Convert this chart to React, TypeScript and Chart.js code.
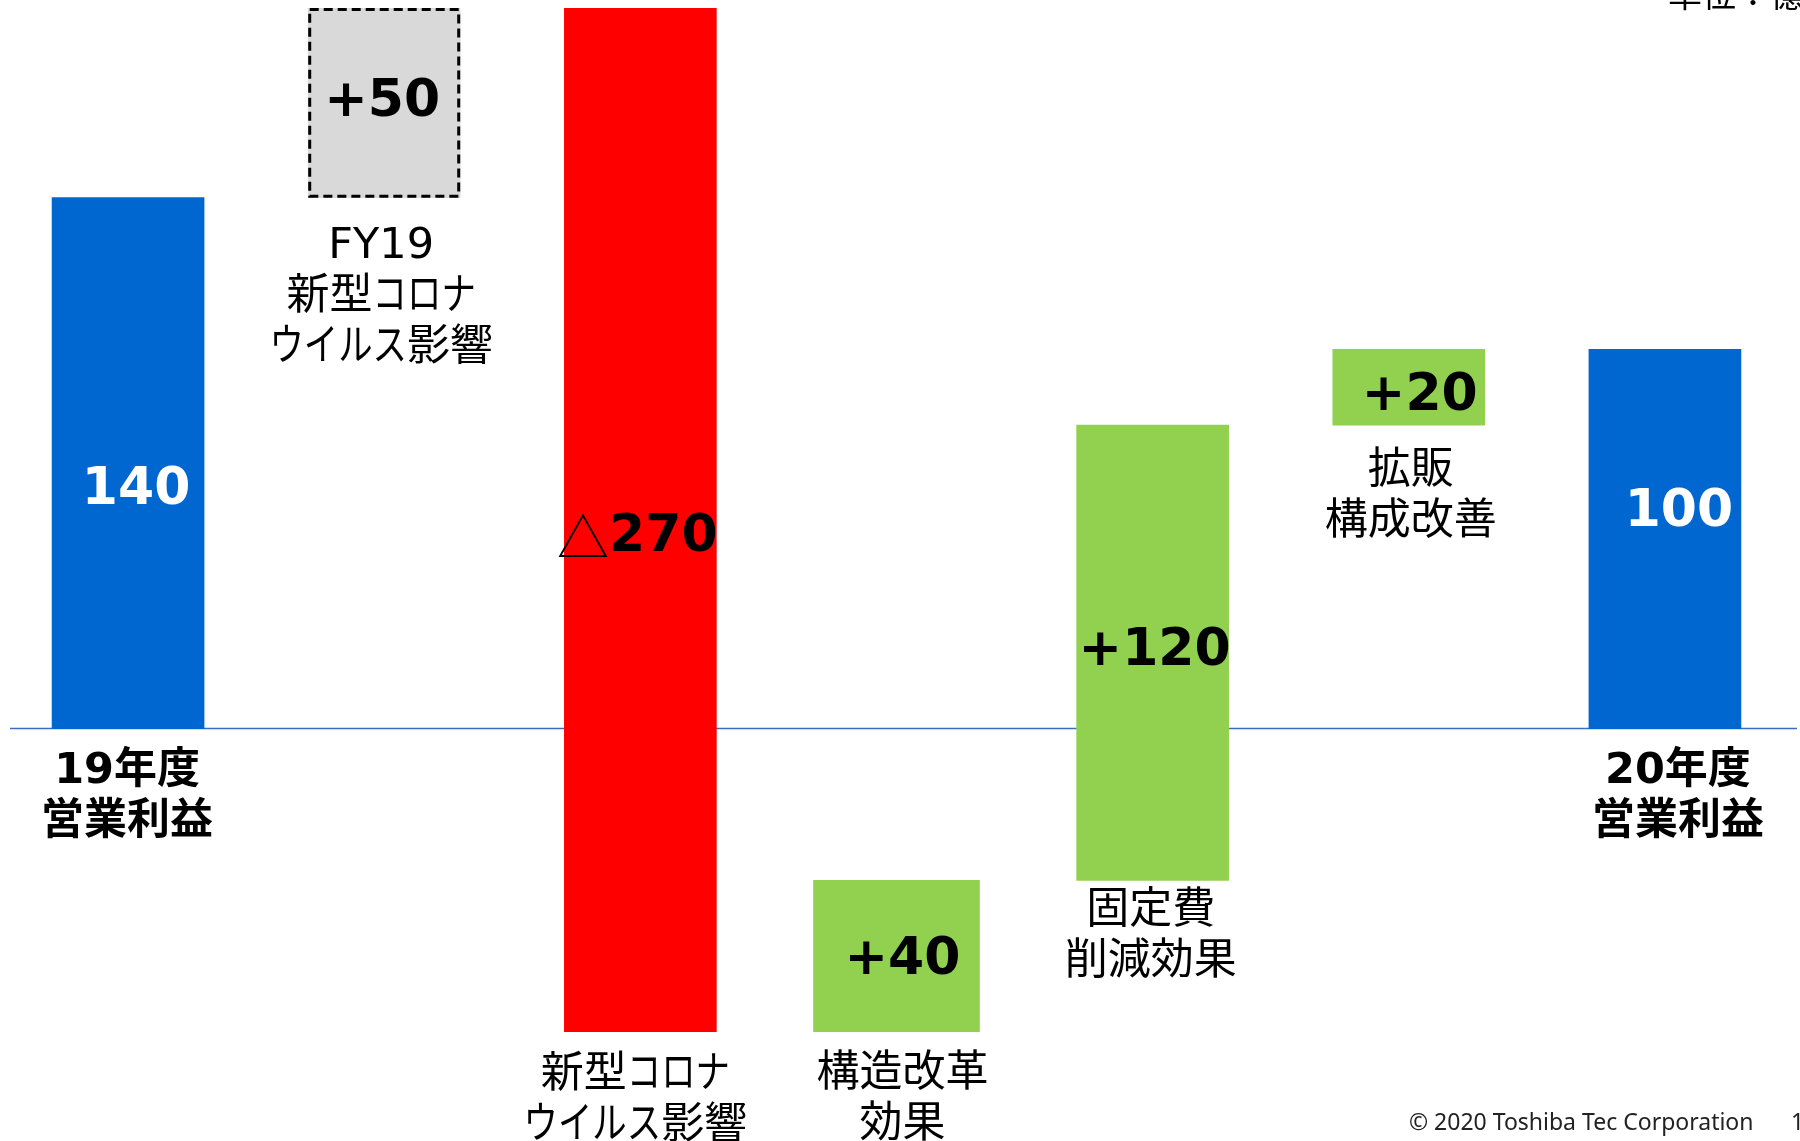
import React, { useEffect, useRef } from "react";
import { Chart, registerables } from "chart.js";

Chart.register(...registerables);

// ---- data ----
const captionLines: string[][] = [
  ["19年度", "営業利益"],
  ["FY19", "新型コロナ", "ウイルス影響"],
  ["新型コロナ", "ウイルス影響"],
  ["構造改革", "効果"],
  ["固定費", "削減効果"],
  ["拡販", "構成改善"],
  ["20年度", "営業利益"],
];
const categories = captionLines.map((l) => l.join(""));
const barLow = [0, 140, -80, -80, -40, 80, 0];
const barHigh = [140, 190, 190, -40, 80, 100, 100];
const valueLabels = ["140", "+50", "△270", "+40", "+120", "+20", "100"];
const yMin = -80;
const yMax = 190;
const unitText = "単位：億円";
const footerText = "© 2020 Toshiba Tec Corporation";
const pageText = "1";

// ---- styles ----
const BLUE = "#0066D0";
const barColors = [BLUE, "#D9D9D9", "#FF0000", "#92D050", "#92D050", "#92D050", BLUE];
const labelColors = ["#FFFFFF", "#000", "#000", "#000", "#000", "#000", "#FFFFFF"];
const labelNudgeX = [8, -2, -3, 6, 2, 11, 14];
const labelNudgeY = [27, 0, 17, 4, -1, 9, -26];
const captionGap = [43, 49, 44, 43, 32, 47, 43];
const captionDx = [-1, -3, -5, 6, -2, 2, 13];
const captionBold = [true, false, false, false, false, false, true];
const wideIndex = 3;
const dashedIndex = 1;
const KANA_SCALE = 0.8;

const LATIN_CJK = '"DejaVu Sans", "Noto Sans CJK JP"';

function isKana(ch: string) {
  const c = ch.charCodeAt(0);
  return c >= 0x30a0 && c <= 0x30ff;
}

function drawMixed(ctx: CanvasRenderingContext2D, text: string, cx: number, y: number) {
  const chars = Array.from(text);
  const widths = chars.map((ch) => ctx.measureText(ch).width * (isKana(ch) ? KANA_SCALE : 1));
  const total = widths.reduce((a, b) => a + b, 0);
  let x = cx - total / 2;
  ctx.textAlign = "left";
  chars.forEach((ch, k) => {
    if (isKana(ch)) {
      ctx.save();
      ctx.translate(x, y);
      ctx.scale(KANA_SCALE, 1);
      ctx.fillText(ch, 0, 0);
      ctx.restore();
    } else {
      ctx.fillText(ch, x, y);
    }
    x += widths[k];
  });
}

const overlayPlugin = {
  id: "overlay",
  beforeDatasetsDraw(chart: any) {
    const ctx = chart.ctx;
    const y0 = chart.scales.y.getPixelForValue(0);
    ctx.save();
    ctx.strokeStyle = "#3A6CC0";
    ctx.lineWidth = 1.5;
    ctx.beginPath();
    ctx.moveTo(10, y0);
    ctx.lineTo(1797, y0);
    ctx.stroke();
    ctx.restore();
  },
  afterDatasetsDraw(chart: any) {
    const ctx = chart.ctx;
    const els: any[] = [];
    chart.data.datasets.forEach((ds: any, di: number) => {
      const meta = chart.getDatasetMeta(di);
      meta.data.forEach((el: any, i: number) => {
        if (ds.data[i] == null) return;
        els[i] = el;
      });
    });
    ctx.save();
    els.forEach((el: any, i: number) => {
      if (!el) return;
      const { x, y, base, width } = el.getProps(["x", "y", "base", "width"], true);
      const top = Math.min(y, base);
      const bottom = Math.max(y, base);
      if (i === dashedIndex) {
        ctx.save();
        ctx.strokeStyle = "#000";
        ctx.lineWidth = 3;
        ctx.setLineDash([9, 5]);
        ctx.strokeRect(x - width / 2 + 1.5, top + 1.5, width - 3, bottom - top - 3);
        ctx.restore();
      }
      // value label
      const cx = x + labelNudgeX[i];
      const cy = (top + bottom) / 2 + labelNudgeY[i];
      const lbl = valueLabels[i];
      ctx.fillStyle = labelColors[i];
      ctx.textBaseline = "middle";
      if (lbl.startsWith("△")) {
        const f1 = '52px "Noto Sans CJK JP"';
        const f2 = "bold 52px " + LATIN_CJK;
        ctx.font = f1;
        const w1 = ctx.measureText("△").width;
        ctx.font = f2;
        const rest = lbl.slice(1);
        const w2 = ctx.measureText(rest).width;
        const sx = cx - (w1 + w2) / 2;
        ctx.textAlign = "left";
        ctx.font = f1;
        ctx.fillText("△", sx, cy);
        ctx.font = f2;
        ctx.fillText(rest, sx + w1, cy);
      } else {
        ctx.font = "bold 52px " + LATIN_CJK;
        ctx.textAlign = "center";
        ctx.fillText(lbl, cx, cy);
      }
      // caption
      ctx.fillStyle = "#000";
      ctx.font = (captionBold[i] ? "bold " : "") + "43px " + LATIN_CJK;
      captionLines[i].forEach((line, k) => {
        drawMixed(ctx, line, x + captionDx[i], bottom + captionGap[i] + k * 51);
      });
    });
    // unit text (clipped at the top)
    ctx.fillStyle = "#000";
    ctx.textAlign = "left";
    ctx.textBaseline = "alphabetic";
    ctx.font = '34px "Noto Sans CJK JP"';
    ctx.fillText(unitText, 1668, 7);
    // footer
    ctx.font = '23px "Noto Sans"';
    ctx.fillStyle = "#222";
    ctx.fillText(footerText, 1409, 1130);
    ctx.fillText(pageText, 1791, 1130);
    ctx.restore();
  },
};

export default function App() {
  const ref = useRef<HTMLCanvasElement>(null);
  useEffect(() => {
    if (!ref.current) return;
    const mainData = barLow.map((lo, i) => (i === wideIndex ? null : [lo, barHigh[i]]));
    const wideData = barLow.map((lo, i) => (i === wideIndex ? [lo, barHigh[i]] : null));
    const chart = new Chart(ref.current, {
      type: "bar",
      data: {
        labels: categories,
        datasets: [
          {
            data: mainData as any,
            backgroundColor: barColors,
            borderWidth: 0,
            barThickness: 152,
            grouped: false,
          },
          {
            data: wideData as any,
            backgroundColor: barColors,
            borderWidth: 0,
            barThickness: 166,
            grouped: false,
          },
        ],
      },
      options: {
        animation: false,
        responsive: false,
        devicePixelRatio: 1,
        layout: { padding: { left: 0, right: 7, top: 8, bottom: 109 } },
        plugins: { legend: { display: false }, tooltip: { enabled: false } },
        scales: {
          x: { display: false, offset: true, grid: { display: false } },
          y: { display: false, min: yMin, max: yMax },
        },
      },
      plugins: [overlayPlugin],
    });
    return () => chart.destroy();
  }, []);
  return (
    <div style={{ position: "absolute", left: 0, top: 0, width: 1800, height: 1141, background: "#fff" }}>
      <canvas ref={ref} width={1800} height={1141} style={{ display: "block" }} />
    </div>
  );
}
